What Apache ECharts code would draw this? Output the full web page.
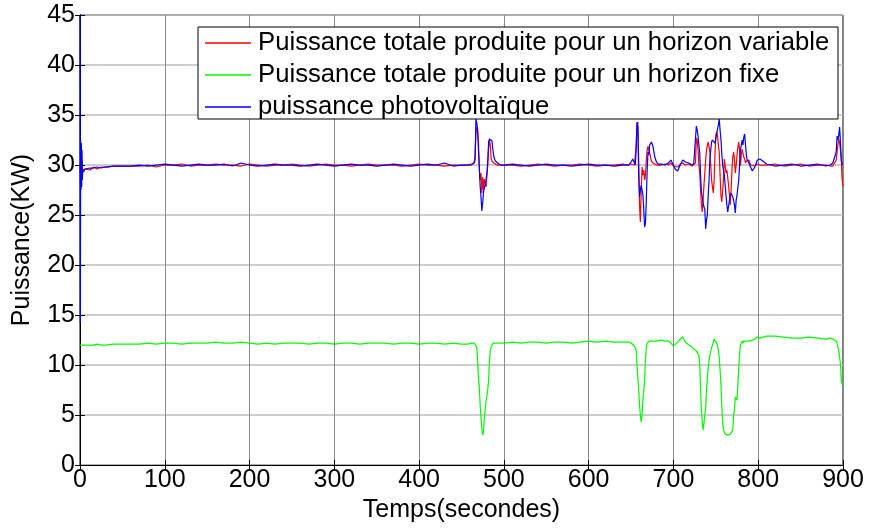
<!DOCTYPE html>
<html>
<head>
<meta charset="utf-8">
<script src="https://cdn.jsdelivr.net/npm/echarts@6/dist/echarts.min.js"></script>
<style>
html,body{margin:0;padding:0;background:#fff;}
#c{width:869px;height:528px;}
</style>
</head>
<body>
<div id="c"></div>
<script>
// time (seconds)
const t = [
0,0.4,0.8,1.2,1.6,2,2.4,2.8,3.2,4,6,8,12,16,20,25,30,40,50,
60,70,80,90,100,110,120,130,140,150,160,170,180,190,200,210,220,230,240,250,260,270,280,290,300,310,320,330,340,350,360,370,380,390,400,410,420,430,440,450,
457,462,464,465,466,467,468,469,470,471,472,473,474,475,476,477,478,479,480,481,482,483,484,485,486,487,488,489,490,492,494,497,
500,510,520,530,540,550,560,570,580,590,600,610,620,630,640,
647,650,652,654,655,656,657,658,659,660,661,662,663,664,665,666,667,668,669,670,671,672,674,676,678,680,682,686,690,694,697,700,702,705,708,711,714,718,722,
724,726,727,728,729,730,731,732,733,734,735,736,737,738,739,740,741,742,743,744,745,746,747,748,749,750,751,752,753,754,755,756,757,758,759,760,761,762,763,764,765,766,767,768,769,770,771,772,773,774,775,776,777,778,779,780,781,782,783,784,785,786,787,789,791,793,796,799,802,
810,820,830,840,850,860,870,880,885,888,890,892,893,894,895,896,897,898,899,900
];
// Puissance totale produite pour un horizon variable
const pVar = [
30,29,31,28.5,31,29,30.5,29.5,29.6,29.4,29.6,29.7,29.5,29.8,29.6,29.8,29.8,29.9,29.9,
29.9,29.9,30.0,29.8,30.0,30.0,30.1,29.9,30.0,30.0,30.1,30.0,30.0,29.9,30.1,30.0,29.9,30.0,30.0,30.1,30.0,29.9,30.0,30.1,30.0,30.0,29.9,30.0,30.1,30.0,30.0,30.0,29.9,30.0,30.1,30.0,30.0,29.9,30.0,30.0,
30.0,30.0,30.1,30.3,31.0,33.0,33.8,33.4,32.3,29.6,28.5,29.2,27.2,28.8,27.5,28.6,28.2,27.8,28.9,30.0,31.6,32.5,32.0,30.6,30.4,30.3,30.2,30.1,30.1,30.0,30.0,30.0,
30.0,30.0,29.9,30.0,30.1,30.0,29.9,30.0,30.0,30.1,30.0,29.9,30.0,30.0,30.1,
30.0,30.1,30.2,30.0,30.0,32.0,34.0,34.3,30.5,26.0,24.3,27.5,29.8,29.0,29.5,28.5,29.0,30.5,31.5,31.9,31.5,31.2,30.4,30.2,30.1,30.0,30.1,30.0,30.1,30.0,30.2,29.9,29.8,29.8,30.1,30.2,30.0,30.1,29.9,
30.0,30.2,32.7,32.5,31.5,30.0,29.2,27.5,26.0,25.3,26.5,28.0,29.2,30.5,31.5,32.0,32.3,31.8,31.3,30.0,28.5,27.8,27.2,28.5,31.0,33.0,33.3,33.0,32.0,31.3,29.0,27.0,26.3,26.3,28.5,30.6,30.0,29.2,29.5,29.6,28.0,27.0,26.0,27.5,29.5,30.8,31.3,30.5,29.2,30.0,31.0,31.8,32.3,31.5,29.9,31.0,31.6,31.2,30.8,30.6,30.2,30.4,30.5,30.5,30.0,30.0,29.9,30.1,30.0,
30.0,30.1,29.9,30.0,30.1,29.9,30.0,30.0,29.9,29.9,30.0,30.5,31.3,32.0,32.6,32.2,31.5,30.5,28.5,27.9
];
// Puissance totale produite pour un horizon fixe
const pFix = [
12.0,12.0,12.0,12.0,12.0,12.0,12.0,12.0,12.0,12.0,12.0,12.0,12.0,12.0,12.1,12.0,12.0,12.1,12.1,
12.1,12.1,12.2,12.1,12.2,12.2,12.1,12.2,12.2,12.2,12.3,12.2,12.2,12.3,12.2,12.1,12.2,12.1,12.2,12.2,12.2,12.1,12.2,12.2,12.1,12.2,12.2,12.1,12.2,12.2,12.2,12.1,12.2,12.2,12.1,12.2,12.2,12.1,12.2,12.1,
12.1,12.2,12.2,12.2,12.2,12.2,11.8,10.5,8.7,7.8,6.0,4.8,3.6,3.0,3.5,4.8,5.6,6.4,7.0,7.6,8.5,10.5,11.5,11.8,11.9,12.2,12.1,12.2,12.2,12.1,12.2,12.2,
12.2,12.3,12.2,12.3,12.3,12.2,12.3,12.3,12.2,12.3,12.4,12.3,12.4,12.3,12.3,
12.3,12.2,12.1,11.9,11.8,11.5,10.0,8.7,7.5,6.0,5.0,4.3,5.0,6.5,7.5,8.5,10.5,11.8,12.2,12.3,12.3,12.4,12.4,12.4,12.4,12.4,12.4,12.5,12.4,12.4,12.2,11.9,12.0,12.3,12.6,12.8,12.3,12.0,11.8,
11.6,11.5,11.4,11.4,11.3,11.0,10.0,7.5,5.5,4.3,3.5,4.2,5.0,5.8,7.5,8.7,9.7,10.5,11.0,11.4,11.7,12.0,12.3,12.6,12.7,12.5,12.2,11.9,11.5,10.8,9.5,8.1,6.0,4.3,3.6,3.3,3.1,3.1,3.0,3.0,3.1,3.0,3.1,3.2,3.2,3.5,5.0,5.6,6.8,6.7,6.5,8.0,9.7,11.0,12.0,12.1,12.4,12.2,12.4,12.4,12.3,12.4,12.3,12.4,12.4,12.5,12.6,12.8,12.7,
12.9,12.9,12.8,12.7,12.7,12.8,12.7,12.6,12.7,12.6,12.5,12.4,12.2,11.8,11.4,10.8,10.1,8.5,8.1,8.0
];
// puissance photovoltaïque
const pPV = [
45,14.2,32.4,27.5,32.2,27.8,31.5,28.5,29.5,29.3,29.6,29.6,29.7,29.7,29.8,29.7,29.8,29.9,29.9,
29.9,30.0,29.9,30.0,30.1,30.0,29.9,30.0,30.1,30.0,30.0,30.1,29.9,30.2,30.0,29.9,30.0,30.1,30.0,30.0,29.9,30.0,30.1,30.0,29.9,30.0,30.1,30.0,30.0,29.9,30.0,30.1,30.0,29.9,30.0,30.1,30.0,30.2,29.9,30.0,
30.0,30.1,30.0,30.2,30.5,34.6,34.2,33.6,31.5,29.8,27.9,26.8,25.4,26.2,27.3,27.8,28.0,28.6,29.2,30.5,32.3,32.6,32.7,32.6,32.4,31.5,30.9,30.6,30.4,30.3,30.1,30.0,
30.0,30.1,30.0,29.9,30.0,30.1,30.0,30.0,29.9,30.0,30.1,30.0,30.0,29.9,30.0,
30.0,30.3,30.6,30.2,30.0,31.5,34.3,33.8,29.0,26.8,27.5,28.0,27.5,27.0,25.5,23.8,24.2,26.5,29.5,31.3,31.0,32.0,32.3,31.8,30.8,30.3,30.1,30.1,30.0,30.2,30.5,30.0,29.6,29.4,30.0,30.5,30.3,30.2,30.0,
30.2,30.3,33.9,33.5,32.9,32.0,31.2,29.0,27.3,26.8,26.2,25.8,25.6,23.6,24.5,25.0,27.0,28.5,30.6,31.5,32.3,32.5,32.6,32.4,32.2,32.6,33.2,33.6,34.0,34.6,33.5,32.6,31.2,30.0,29.5,29.0,28.0,27.0,26.0,25.3,25.4,25.3,27.0,27.2,27.0,26.8,26.5,26.0,25.2,26.5,27.0,27.0,28.5,30.0,31.5,32.0,32.5,32.0,32.8,33.1,32.0,31.0,30.5,30.2,29.8,29.4,29.8,30.5,30.6,
30.1,29.9,30.0,30.1,29.9,30.0,30.1,29.9,30.0,30.2,30.1,31.3,32.9,32.5,33.0,33.8,32.3,30.5,30.1,30.0
];
const xTicks = [0,100,200,300,400,500,600,700,800,900];
const yTicks = [0,5,10,15,20,25,30,35,40,45];
const names = ['Puissance totale produite pour un horizon variable','Puissance totale produite pour un horizon fixe','puissance photovoltaïque'];

const n = Math.min(t.length, pVar.length, pFix.length, pPV.length);
const pair = arr => { const o=[]; for(let i=0;i<n;i++) o.push([t[i], arr[i]]); return o; };
const FONT = "'Liberation Sans', Arial, sans-serif";
const chart = echarts.init(document.getElementById('c'), null, {renderer:'canvas'});
const axisCommon = {
  type:'value',
  axisLine:{show:true, lineStyle:{color:'#000', width:1}},
  axisTick:{show:true, inside:true, length:5, lineStyle:{color:'#000'}},
  axisLabel:{color:'#000', fontSize:25, fontFamily:FONT},
  nameTextStyle:{color:'#000', fontSize:25, fontFamily:FONT}
};
chart.setOption({
  animation:false,
  backgroundColor:'#fff',
  grid:{left:80, right:26, top:15, bottom:60, show:true, borderColor:'#000', borderWidth:1, backgroundColor:'transparent'},
  xAxis:[
    Object.assign({}, axisCommon, {min:xTicks[0], max:xTicks[xTicks.length-1], interval:100,
      axisLabel:Object.assign({}, axisCommon.axisLabel, {margin:3}),
      splitLine:{show:true, lineStyle:{color:'#8a8a8a', width:1}},
      name:'Temps(secondes)', nameLocation:'middle', nameGap:31}),
    Object.assign({}, axisCommon, {position:'top', min:0, max:900, interval:100, axisLabel:{show:false}, splitLine:{show:false}})
  ],
  yAxis:[
    Object.assign({}, axisCommon, {min:yTicks[0], max:yTicks[yTicks.length-1], interval:5,
      axisLabel:Object.assign({}, axisCommon.axisLabel, {margin:5}),
      splitLine:{show:true, lineStyle:{color:'#bdbdbd', width:1.5}},
      name:'Puissance(KW)', nameLocation:'middle', nameGap:45}),
    Object.assign({}, axisCommon, {position:'right', min:0, max:45, interval:5, axisLabel:{show:false}, splitLine:{show:false}})
  ],
  legend:{
    show:true, orient:'vertical', left:205, top:30, padding:0, itemGap:6,
    icon:'rect', itemWidth:46, itemHeight:1.5, z:10,
    textStyle:{color:'#000', fontSize:25.7, fontFamily:FONT, lineHeight:24, padding:[0,0,0,2]},
    data:names
  },
  graphic:[{type:'rect', z:5, silent:true, shape:{x:198, y:27, width:640, height:92}, style:{fill:'#fff', stroke:'#000', lineWidth:1}}],
  series:[
    {name:names[0], type:'line', data:pair(pVar), showSymbol:false, symbol:'none', color:'#ff0000', lineStyle:{width:1.2, color:'#ff0000'}, z:2},
    {name:names[1], type:'line', data:pair(pFix), showSymbol:false, symbol:'none', color:'#00ff00', lineStyle:{width:1.2, color:'#00ff00'}, z:2},
    {name:names[2], type:'line', data:pair(pPV), showSymbol:false, symbol:'none', color:'#0000ff', lineStyle:{width:1.2, color:'#0000ff'}, z:3}
  ]
});
</script>
</body>
</html>
